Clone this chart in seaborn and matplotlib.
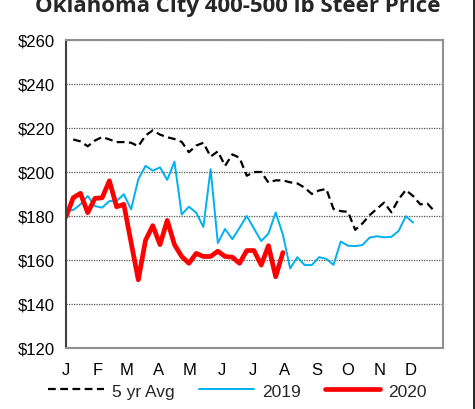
import numpy as np
import pandas as pd
import matplotlib
matplotlib.use("Agg")
import matplotlib.pyplot as plt
import seaborn as sns
from matplotlib.lines import Line2D

# ---- data (weekly prices, $/cwt) ----
avg5_weeks = list(range(1, 52))
avg5 = [214.8, 213.9, 211.7, 214.3, 215.9, 214.8, 213.6, 213.6, 213.3, 211.7,
        216.6, 218.9, 217.0, 215.8, 215.0, 213.7, 209.0, 212.0, 213.3, 207.0,
        209.4, 202.8, 208.0, 206.5, 198.3, 200.0, 200.0, 195.2, 196.2, 196.2,
        195.3, 194.8, 192.9, 190.0, 191.6, 192.3, 183.2, 182.2, 181.9, 173.7,
        176.6, 180.4, 183.3, 186.1, 181.7, 187.6, 191.8, 189.1, 185.3, 185.6,
        182.0]

y2019_weeks = list(range(0, 49))
y2019 = [182.7, 182.7, 185.3, 189.1, 184.5, 183.8, 186.8, 186.8, 189.9, 183.0,
         196.7, 202.8, 200.6, 202.1, 196.4, 204.7, 180.7, 184.2, 181.5, 175.0,
         201.3, 167.7, 174.1, 169.5, 174.6, 180.0, 174.3, 168.6, 172.0, 181.6,
         171.5, 156.2, 161.3, 157.7, 157.7, 161.3, 160.5, 157.8, 168.4, 166.5,
         166.3, 166.8, 170.2, 170.8, 170.3, 170.5, 173.2, 179.9, 177.0]

y2020_weeks = list(range(0, 31))
y2020 = [179.6, 188.3, 190.3, 181.5, 188.0, 188.3, 196.0, 184.2, 185.3, 168.0,
         151.0, 169.0, 175.6, 167.0, 178.0, 167.0, 161.6, 158.5, 163.0, 161.6,
         161.6, 164.0, 161.6, 161.3, 158.5, 164.3, 164.3, 157.7, 166.5, 152.4,
         163.4]

series_names = ["5 yr Avg", "2019", "2020"]
month_labels = ["J", "F", "M", "A", "M", "J", "J", "A", "S", "O", "N", "D"]
month_start_days = [0, 31, 59, 90, 120, 151, 181, 212, 243, 273, 304, 334, 365]
y_ticks = [120, 140, 160, 180, 200, 220, 240, 260]
title = "Oklahoma City 400-500 lb Steer Price"

df = pd.concat([
    pd.DataFrame({"week": avg5_weeks, "price": avg5, "series": series_names[0]}),
    pd.DataFrame({"week": y2019_weeks, "price": y2019, "series": series_names[1]}),
    pd.DataFrame({"week": y2020_weeks, "price": y2020, "series": series_names[2]}),
])

sns.set_theme(style="white")
plt.rcParams['font.family'] = ['Liberation Sans', 'DejaVu Sans']

fig = plt.figure(figsize=(4.75, 4.10), dpi=100)
ax = fig.add_axes([66/475, 1-349/410, (443-66)/475, (349-41)/410])

palette = {"5 yr Avg": "black", "2019": "#00B0F0", "2020": "#FF0000"}
dash = (0, (3.5, 2))
styles = [("5 yr Avg", 1.6, dash), ("2019", 1.4, "-"), ("2020", 3.4, "-")]
for name, lw, ls in styles:
    sub = df[df["series"] == name]
    sns.lineplot(data=sub, x="week", y="price", ax=ax, color=palette[name],
                 linewidth=lw, linestyle=ls, label=name, legend=False)

tick_pos = [d / 7 for d in month_start_days]
ax.set_xlim(tick_pos[0], tick_pos[-1])
ax.set_ylim(y_ticks[0], y_ticks[-1])
ax.set_xticks(tick_pos)
ax.set_xticklabels(month_labels + [""])
ax.set_yticks(y_ticks)
ax.set_yticklabels([f"${v}" for v in y_ticks])
ax.set_xlabel("")
ax.set_ylabel("")

ax.yaxis.grid(True, linestyle=(0, (1, 1)), color="#555555", linewidth=0.9)
ax.xaxis.grid(False)
ax.set_axisbelow(True)

for side in ["top", "right", "bottom"]:
    ax.spines[side].set_color("#909090")
    ax.spines[side].set_linewidth(1.5)
ax.spines["left"].set_color("#404040")
ax.spines["left"].set_linewidth(1.5)

ax.tick_params(axis="both", which="both", direction="out", length=5, width=1,
               color="#808080", labelsize=12, labelcolor="black")
ax.tick_params(axis="x", pad=5)
ax.tick_params(axis="y", pad=3)

handles = [Line2D([], [], color="black", lw=1.6, ls=dash),
           Line2D([], [], color="#00B0F0", lw=1.4),
           Line2D([], [], color="#FF0000", lw=3.4)]
fig.legend(handles, series_names, loc="center", bbox_to_anchor=(0.5, 1-392/410),
           ncol=3, frameon=False, fontsize=12.5, handlelength=3.2, handletextpad=0.45,
           columnspacing=1.4, borderpad=0.1)

fig.text(0.5, 1-12/410, title, ha="center", va="baseline", fontsize=16,
         fontweight="bold", family=["Open Sans", "DejaVu Sans"])

fig.add_artist(Line2D([0.998, 0.998], [0, 1], transform=fig.transFigure,
                      color="black", lw=1.2))

fig.savefig("out.png", dpi=100)
